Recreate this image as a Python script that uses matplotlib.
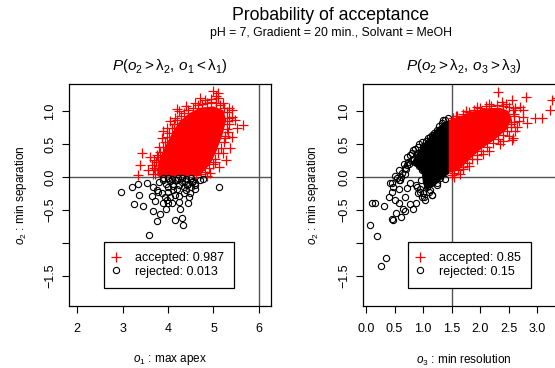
import matplotlib
matplotlib.use('Agg')
import matplotlib.pyplot as plt

plt.rcParams['font.family'] = ['Liberation Sans', 'DejaVu Sans']
plt.rcParams['mathtext.fontset'] = 'custom'
plt.rcParams['mathtext.rm'] = 'Liberation Sans'
plt.rcParams['mathtext.it'] = 'Liberation Sans:italic'
plt.rcParams['axes.unicode_minus'] = True

# ---- data ----
# left panel: o1 (max apex) vs o2 (min separation)
# dense core of the accepted cloud (solid red in the reference)
left_core_x = [3.76, 3.77, 3.86, 3.98, 4.12, 4.24, 4.45, 4.70, 5.00, 5.22, 5.28, 5.20, 5.06, 4.92, 4.74, 4.60, 3.80]
left_core_y = [0.02, 0.18, 0.35, 0.52, 0.70, 0.83, 0.96, 1.05, 1.07, 1.01, 0.86, 0.64, 0.38, 0.18, 0.06, 0.02, 0.00]
left_acc_x = [5.65, 5.47, 5.41, 5.41, 5.10, 5.10, 5.05, 4.81, 4.60, 4.40, 4.25, 4.15, 3.97, 3.86, 3.43,
              3.38, 3.34, 3.65, 3.76, 3.70, 3.72, 3.80, 3.90, 4.05, 5.36, 5.32, 5.21, 4.92, 4.70, 5.03,
              5.52, 5.25, 5.30, 5.35, 5.20, 4.95, 4.55, 4.85, 3.95, 3.85, 5.12, 5.28, 5.40, 3.60, 3.55,
              4.20, 4.70, 5.00,
              3.72, 3.70, 3.74, 3.78, 3.83, 3.88, 3.93, 3.98, 4.03, 4.08, 4.14, 4.20, 4.28, 4.36, 4.45,
              4.55, 4.65, 4.75, 4.85, 4.95, 5.05, 5.15, 5.22, 5.30, 5.33, 5.33, 5.30, 5.26, 5.22, 5.16,
              5.10, 5.04, 4.98, 4.90, 4.82, 4.72, 4.62, 3.68]
left_acc_y = [0.79, 0.86, 1.02, 0.91, 1.27, 1.20, 1.22, 1.17, 1.12, 1.08, 1.00, 0.89, 0.74, 0.59, 0.36,
              0.18, 0.03, 0.18, 0.33, 0.25, 0.10, 0.45, 0.70, 0.85, 0.44, 0.68, 0.36, 0.06, 0.11, 0.23,
              0.74, 0.59, 0.85, 1.05, 1.12, 1.18, 0.05, 0.02, 0.05, 0.12, 0.15, 0.25, 0.60, 0.30, 0.10,
              1.03, 1.20, 1.30,
              0.05, 0.14, 0.22, 0.30, 0.38, 0.46, 0.53, 0.60, 0.67, 0.74, 0.80, 0.86, 0.92, 0.97, 1.01,
              1.05, 1.09, 1.11, 1.12, 1.13, 1.12, 1.09, 1.05, 0.98, 0.90, 0.80, 0.72, 0.62, 0.53, 0.44,
              0.36, 0.28, 0.20, 0.13, 0.08, 0.04, 0.03, 0.04]
left_rej_x = [2.97, 3.21, 3.35, 3.53, 3.37, 3.26, 3.44, 3.67, 3.64, 3.71, 3.67, 3.86, 4.00, 3.82, 3.76,
              3.89, 4.00, 4.09, 3.96, 4.26, 4.25, 4.15, 4.30, 4.33, 4.44, 4.47, 3.58, 5.12, 4.59, 4.77,
              3.90, 4.00, 4.10, 4.20, 4.30, 4.35, 4.40, 4.45, 4.50, 4.55, 4.60, 4.20, 4.10, 4.00, 3.95,
              4.25, 4.30, 4.15, 4.05, 4.40, 4.50, 4.15, 4.35, 4.60, 4.70, 3.80, 3.75, 4.05, 4.25, 3.93,
              4.38, 4.48, 4.12, 3.78, 3.98, 4.22, 4.42, 4.08, 4.52, 3.88]
left_rej_y = [-0.22, -0.15, -0.11, -0.09, -0.27, -0.41, -0.44, -0.15, -0.29, -0.36, -0.51, -0.25, -0.22, -0.56, -0.66,
              -0.39, -0.40, -0.40, -0.48, -0.48, -0.29, -0.65, -0.62, -0.73, -0.40, -0.30, -0.88, -0.15, -0.12, -0.03,
              -0.05, -0.02, -0.10, -0.05, -0.08, -0.15, -0.03, -0.10, -0.02, -0.06, -0.09, -0.18, -0.20, -0.15, -0.10,
              -0.12, -0.02, -0.04, -0.06, -0.20, -0.15, -0.28, -0.25, -0.18, -0.05, -0.08, -0.20, -0.30, -0.38, -0.31,
              -0.06, -0.24, -0.14, -0.22, -0.35, -0.01, -0.12, -0.03, -0.08, -0.02]

# right panel: o3 (min resolution) vs o2 (min separation)
right_core_x = [1.45, 1.45, 1.65, 1.85, 2.10, 2.35, 2.50, 2.56, 2.47, 2.25, 2.00, 1.80, 1.62]
right_core_y = [0.06, 0.86, 0.92, 0.99, 1.04, 1.05, 1.00, 0.88, 0.72, 0.56, 0.41, 0.25, 0.10]
# dense core of the rejected cloud (solid black in the reference)
right_rcore_x = [1.46, 1.36, 1.22, 1.08, 0.95, 0.85, 0.79, 0.90, 0.98, 1.00, 1.05, 1.20, 1.35, 1.46]
right_rcore_y = [0.86, 0.83, 0.72, 0.58, 0.44, 0.30, 0.19, 0.14, 0.05, -0.10, -0.20, -0.14, -0.02, 0.05]
right_acc_x = [2.32, 2.81, 3.26, 3.23, 3.09, 2.96, 2.75, 2.82, 2.65, 2.58, 2.56, 2.70, 2.56, 2.39, 2.75,
               3.35, 2.60, 2.62, 2.50, 2.35, 2.15, 1.95, 1.80, 1.65, 1.55, 1.58, 1.75, 1.95, 2.15, 2.45,
               2.05, 2.40, 1.70, 2.55, 2.62, 2.68,
               1.52, 1.60, 1.70, 1.80, 1.90, 2.00, 2.10, 2.20, 2.30, 2.40, 2.50, 2.57, 2.60, 2.59, 2.55,
               2.48, 2.40, 2.32, 2.22, 2.12, 2.02, 1.94, 1.86, 1.78, 1.70, 1.62, 1.54, 1.50]
right_acc_y = [1.29, 1.21, 1.17, 1.02, 0.89, 0.89, 0.91, 0.82, 0.76, 0.59, 0.56, 1.06, 1.17, 1.14, 1.02,
               1.20, 0.95, 0.70, 0.62, 0.50, 0.40, 0.28, 0.17, 0.05, 0.00, 0.93, 1.00, 1.06, 1.10, 1.10,
               0.35, 0.55, 0.12, 0.80, 1.05, 0.85,
               0.90, 0.93, 0.96, 0.99, 1.02, 1.05, 1.07, 1.08, 1.09, 1.08, 1.06, 1.01, 0.93, 0.84, 0.76,
               0.69, 0.63, 0.57, 0.51, 0.46, 0.40, 0.34, 0.27, 0.21, 0.15, 0.10, 0.06, 0.03]
right_rej_x = [0.07, 0.19, 0.26, 0.35, 0.10, 0.16, 0.32, 0.48, 0.53, 0.45, 0.57, 0.65, 0.68, 0.77, 0.83,
               0.72, 0.77, 0.42, 0.48, 0.45, 0.60, 0.72, 0.89, 0.98, 0.95, 1.07, 1.12, 1.16,
               1.04, 1.24, 1.30,
               0.46, 0.54, 0.63, 0.68, 0.74, 0.77, 0.82, 0.91, 0.98, 1.09, 1.16, 1.25, 1.33, 1.35,
               0.50, 0.58, 0.66, 0.72, 0.80, 0.86, 0.93, 1.00, 1.06, 1.12, 1.20, 1.28, 1.38, 1.44,
               0.70, 0.76, 0.84, 0.90, 0.95, 0.80, 0.88, 0.93, 0.62, 0.58, 0.68,
               0.97, 0.98, 0.96, 0.95, 1.00, 1.10, 1.25, 1.38, 0.88, 0.92, 1.02, 1.15,
               0.50, 0.62, 0.40, 0.58, 0.68, 0.88]
right_rej_y = [-0.73, -0.89, -1.35, -1.23, -0.40, -0.39, -0.44, -0.65, -0.55, -0.63, -0.39, -0.48, -0.52, -0.41, -0.49,
               -0.17, -0.09, -0.09, -0.15, -0.22, -0.05, 0.18, -0.15, -0.30, -0.22, -0.15, -0.20, -0.27,
               -0.35, -0.09, -0.02,
               -0.09, -0.02, 0.06, 0.14, 0.23, 0.33, 0.41, 0.45, 0.53, 0.59, 0.64, 0.71, 0.82, 0.86,
               0.02, 0.10, 0.20, 0.30, 0.36, 0.42, 0.50, 0.47, 0.55, 0.60, 0.66, 0.78, 0.87, 0.89,
               0.12, 0.20, 0.28, 0.36, 0.30, 0.25, 0.22, 0.16, 0.00, -0.05, 0.05,
               0.30, 0.10, -0.05, -0.18, -0.25, -0.22, -0.12, -0.03, -0.12, -0.25, -0.30, -0.28,
               -0.35, -0.60, -0.30, -0.18, -0.30, -0.40]

left_labels = ['accepted: 0.987', 'rejected: 0.013']
right_labels = ['accepted: 0.85', 'rejected: 0.15']
left_xticks = [2, 3, 4, 5, 6]
right_xticks = [0.0, 0.5, 1.0, 1.5, 2.0, 2.5, 3.0]
yticks = [-1.5, -1.0, -0.5, 0.0, 0.5, 1.0]
ytick_labels = ['\u22121.5', '', '\u22120.5', '0.0', '0.5', '1.0']
lambda1 = 6
lambda3 = 1.5

W, H = 555, 368
fig = plt.figure(figsize=(W / 100, H / 100), dpi=100)

def px_axes(x0, y0, x1, y1):
    return fig.add_axes([x0 / W, 1 - y1 / H, (x1 - x0) / W, (y1 - y0) / H])

axL = px_axes(69, 84, 270.5, 306)
axR = px_axes(363, 84, 564.5, 306)

line_col = '#555555'
acc_style = dict(ls='none', marker='+', ms=6.5, mew=0.9, color='red')
rej_style = dict(ls='none', marker='o', ms=4.5, mfc='none', mew=0.8, color='black')

for ax in (axL, axR):
    ax.axhline(0, color=line_col, lw=1.0, zorder=1)
    ax.set_ylim(-1.955, 1.409)
    ax.set_yticks(yticks)
    ax.set_yticklabels(ytick_labels, rotation=90, va='center')
    ax.tick_params(direction='out', length=5, width=0.8, labelsize=9, pad=4)
    ax.tick_params(axis='x', pad=7)
    for s in ax.spines.values():
        s.set_linewidth(0.9)

# left panel
axL.axvline(lambda1, color=line_col, lw=1.0, zorder=1)
axL.fill(left_core_x, left_core_y, color='red', lw=0, zorder=2)
axL.plot(left_acc_x, left_acc_y, zorder=3, label=left_labels[0], **acc_style)
axL.plot(left_rej_x, left_rej_y, zorder=4, label=left_labels[1], **rej_style)
axL.set_xlim(1.824, 6.253)
axL.set_xticks(left_xticks)
axL.set_xticklabels([str(v) for v in left_xticks])

# right panel
axR.axvline(lambda3, color=line_col, lw=1.0, zorder=1)
axR.fill(right_rcore_x, right_rcore_y, color='black', lw=0, zorder=2)
axR.plot(right_rej_x, right_rej_y, zorder=3, label=right_labels[1], **rej_style)
axR.fill(right_core_x, right_core_y, color='red', lw=0, zorder=4)
axR.plot(right_acc_x, right_acc_y, zorder=5, label=right_labels[0], **acc_style)
axR.set_xlim(-0.053, 3.482)
axR.set_xticks(right_xticks)
axR.set_xticklabels(['%.1f' % v for v in right_xticks])

def add_legend(ax, x0, y0):
    h, l = ax.get_legend_handles_labels()
    order = [l.index(t) for t in sorted(l, key=lambda t: not t.startswith('acc'))]
    leg = ax.legend([h[i] for i in order], [l[i] for i in order], loc='upper left',
                    bbox_to_anchor=(x0, y0), bbox_transform=ax.transData, fontsize=9,
                    frameon=True, fancybox=False, edgecolor='black', framealpha=1,
                    borderpad=0.8, handlelength=0.3, handletextpad=1.4, labelspacing=0.15,
                    borderaxespad=0)
    leg.get_frame().set_linewidth(0.9)
    leg.set_zorder(10)

add_legend(axL, 2.593, -0.985)
add_legend(axR, 0.737, -0.985)

# titles and labels
fig.text(331 / W, 1 - 16 / H, 'Probability of acceptance', ha='center', va='center', fontsize=12.7)
fig.text(331 / W, 1 - 33 / H, 'pH = 7, Gradient = 20 min., Solvant = MeOH', ha='center', va='center',
         fontsize=8.8)
fig.text(169.8 / W, 1 - 66 / H, r'$P\left(o_2 > \mathrm{\lambda}_2,\, o_1 < \mathrm{\lambda}_1\right)$',
         ha='center', va='center', fontsize=11)
fig.text(463.7 / W, 1 - 66 / H, r'$P\left(o_2 > \mathrm{\lambda}_2,\, o_3 > \mathrm{\lambda}_3\right)$',
         ha='center', va='center', fontsize=11)
fig.text(169.8 / W, 1 - 360 / H, r'$o_1$ : max apex', ha='center', va='center', fontsize=8.5)
fig.text(463.7 / W, 1 - 360 / H, r'$o_3$ : min resolution', ha='center', va='center', fontsize=8.5)
fig.text(21 / W, 1 - 195 / H, r'$o_2$ : min separation', ha='center', va='center', rotation=90, fontsize=8.5)
fig.text(313 / W, 1 - 195 / H, r'$o_2$ : min separation', ha='center', va='center', rotation=90, fontsize=8.5)

fig.savefig('out.png', dpi=100)
